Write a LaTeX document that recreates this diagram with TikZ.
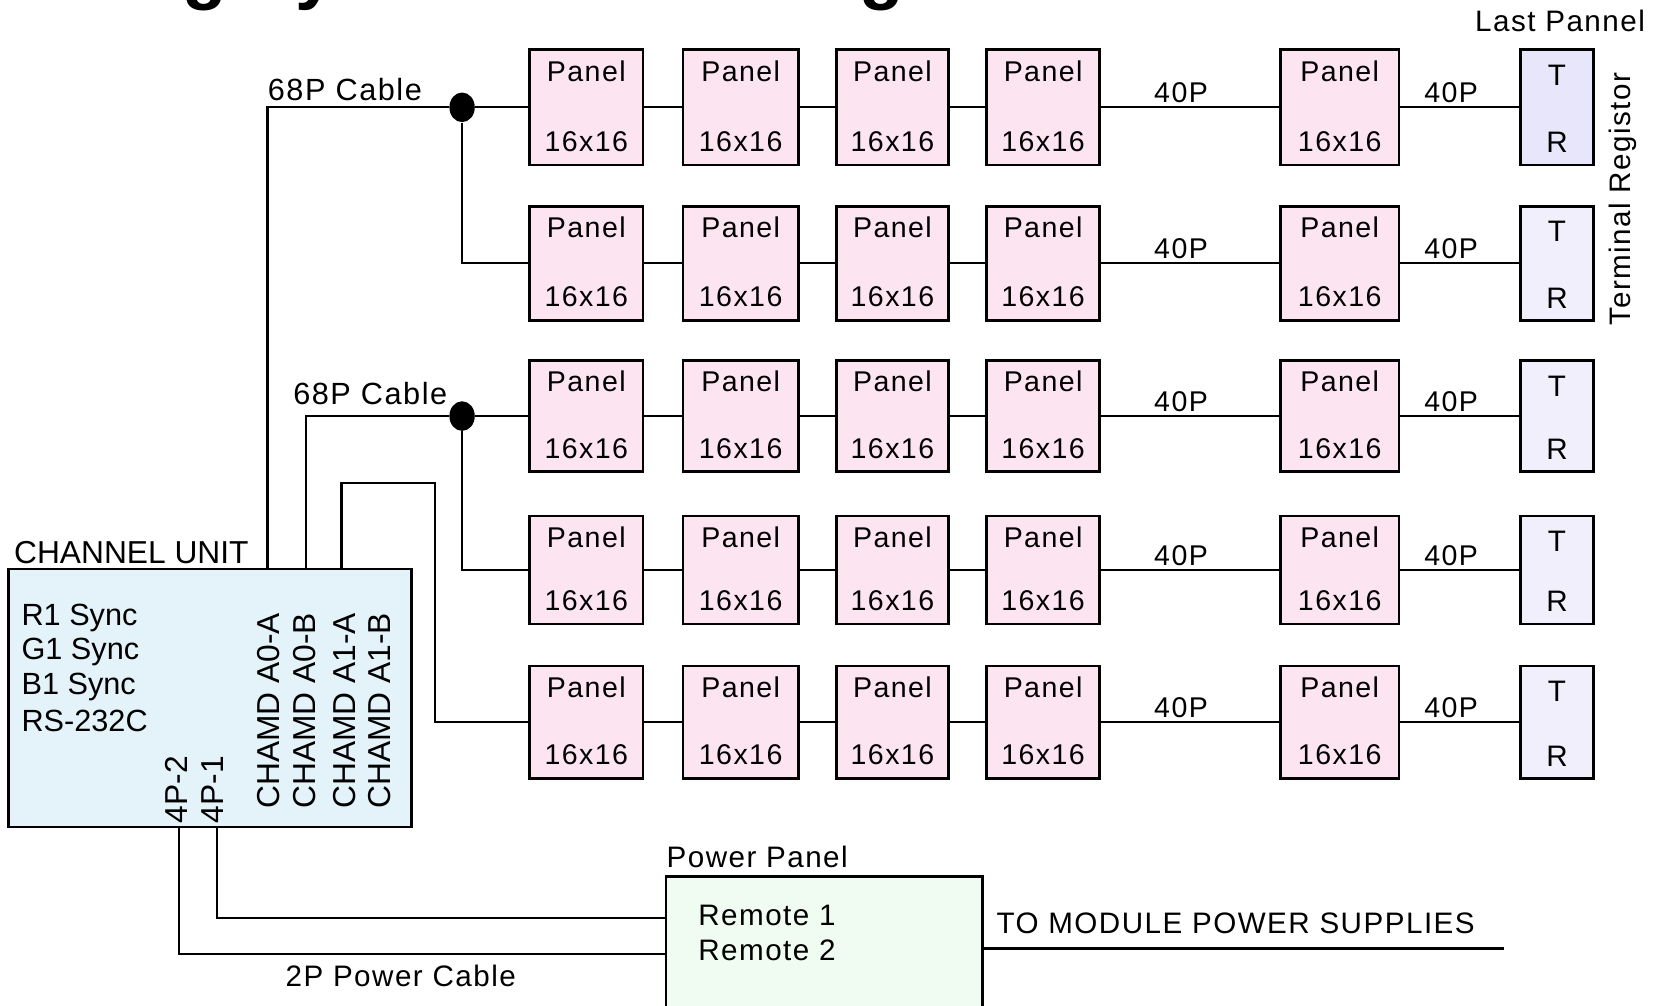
\documentclass[tikz,border=0pt]{standalone}
\usepackage{fontspec}
\setmainfont{Liberation Sans}
\newfontfamily\nfont[LetterSpace=5]{Liberation Sans}
\usetikzlibrary{shapes.geometric}
\definecolor{panelfill}{RGB}{252,228,240}
\definecolor{trA}{RGB}{232,230,250}
\definecolor{trB}{RGB}{241,239,252}
\definecolor{cufill}{RGB}{228,243,249}
\definecolor{ppfill}{RGB}{240,252,242}
\begin{document}
\begin{tikzpicture}[x=0.5pt,y=-0.5pt,
  wire/.style={line width=1pt},
  box/.style={draw, line width=1.25pt, inner sep=0pt, outer sep=0pt},
  panelbox/.style={box, fill=panelfill},
  ntext/.style={inner sep=0pt, font=\nfont\fontsize{13.5}{15}\selectfont},
  ltext/.style={inner sep=0pt, font=\nfont\fontsize{14}{16}\selectfont},
  rtext/.style={inner sep=0pt, font=\fontsize{14.5}{16}\selectfont},
  trtext/.style={inner sep=0pt, font=\fontsize{14}{16}\selectfont},
  vtext/.style={inner sep=0pt, rotate=90, anchor=west, font=\fontsize{15}{17}\selectfont},
  jdot/.style={ellipse, fill=black, minimum width=12pt, minimum height=14pt, inner sep=0pt},
]
\useasboundingbox (0,0) rectangle (1568,951);
\clip (0,0) rectangle (1568,951);

% title (cut off at the top edge)
\node[anchor=base west, inner sep=0pt, font=\bfseries\fontsize{34.5}{40}\selectfont] (title) at (0,-4.5) {Wiring System Block Diagram};

% panel rows
\foreach \r/\cy/\h/\trc in {1/101.5/109/trA,2/249/108/trB,3/393.5/105/trB,4/539/102/trB,5/683/106/trB}{
  \foreach \c/\cx/\w in {1/554.5/107,2/700.5/109,3/844/106,4/986.5/107,5/1267/112}{
    \node[panelbox, minimum width=\w*0.5pt, minimum height=\h*0.5pt] (r\r-\c) at (\cx,\cy) {};
    \node[ntext] (pa\r-\c) at ([yshift=-10pt]r\r-\c.north) {Panel};
    \node[ntext] (ps\r-\c) at ([yshift=11pt]r\r-\c.south) {16x16};
  }
  \node[box, fill=\trc, minimum width=34.5pt, minimum height=\h*0.5pt] (tr\r) at (1472.5,\cy) {};
  \node[trtext] (tt\r) at ([yshift=-12pt]tr\r.north) {T};
  \node[trtext] (tb\r) at ([yshift=10.5pt]tr\r.south) {R};
  \draw[wire] (r\r-1) -- (r\r-2) (r\r-2) -- (r\r-3) (r\r-3) -- (r\r-4);
  \draw[wire] (r\r-4) -- node[ntext, pos=0.45, above=1.5pt] {40P} (r\r-5);
  \draw[wire] (r\r-5) -- node[ntext, pos=0.43, above=1.5pt] {40P} (tr\r);
}

% junctions
\node[jdot] (j1) at (437,101.5) {};
\node[jdot] (j2) at (437,393.5) {};

% channel unit
\node[box, fill=cufill, minimum width=190.5pt, minimum height=122pt] (cu) at (198.5,660) {};
\node[rtext, font=\fontsize{15}{17}\selectfont, anchor=west] (cul) at (13,523) {CHANNEL UNIT};
\node[rtext, anchor=west] (s1) at (20,584) {R1 Sync};
\node[rtext, anchor=west] (s2) at (20,617) {G1 Sync};
\node[rtext, anchor=west] (s3) at (20,650) {B1 Sync};
\node[rtext, anchor=west] (s4) at (20,682) {RS-232C};
\node[vtext] (v1) at (167,779) {4P-2};
\node[vtext] (v2) at (201,779) {4P-1};
\node[vtext] (v3) at (254,765) {CHAMD A0-A};
\node[vtext] (v4) at (288,765) {CHAMD A0-B};
\node[vtext] (v5) at (326,765) {CHAMD A1-A};
\node[vtext] (v6) at (359,765) {CHAMD A1-B};

% cables
\coordinate (cu1) at (253,538);
\coordinate (cu2) at (289,538);
\coordinate (cu3) at (323,538);
\coordinate (b3) at (411,457);
\draw[wire] (cu1) |- (j1);
\draw[wire] (j1) -- (r1-1);
\draw[wire] (j1) |- (r2-1);
\draw[wire] (cu2) |- (j2);
\draw[wire] (j2) -- (r3-1);
\draw[wire] (j2) |- (r4-1);
\draw[wire] (cu3) |- (b3) |- (r5-1);
\node[ltext, font=\nfont\fontsize{14.5}{16}\selectfont, anchor=west] (c68a) at (253,85) {68P Cable};
\node[ltext, font=\nfont\fontsize{14.5}{16}\selectfont, anchor=west] (c68b) at (277,372) {68P Cable};

% power panel
\node[box, fill=ppfill, minimum width=149.5pt, minimum height=66pt] (pp) at (779.5,895) {};
\node[ltext, anchor=west] (ppl) at (630,810) {Power Panel};
\node[ltext, anchor=west] (rm1) at (660,866) {Remote 1};
\node[ltext, anchor=west] (rm2) at (660,899) {Remote 2};
\coordinate (q2) at (169,782);
\coordinate (q1) at (205,782);
\draw[wire] (q1) |- ([yshift=13.5pt]pp.west);
\draw[wire] (q2) |- ([yshift=-3.5pt]pp.west);
\node[ltext] (pcl) at (379,923) {2P Power Cable};
\coordinate (out) at (1422,897);
\draw[wire] (pp.east |- out) -- (out);
\node[ltext, anchor=west] (mps) at (942,873) {TO MODULE POWER SUPPLIES};

% right-side labels
\node[ltext, anchor=east] (lp) at (1556,20) {Last Pannel};
\node[ltext, rotate=90] (trg) at (1535,188) {Terminal Registor};
\end{tikzpicture}
\end{document}
